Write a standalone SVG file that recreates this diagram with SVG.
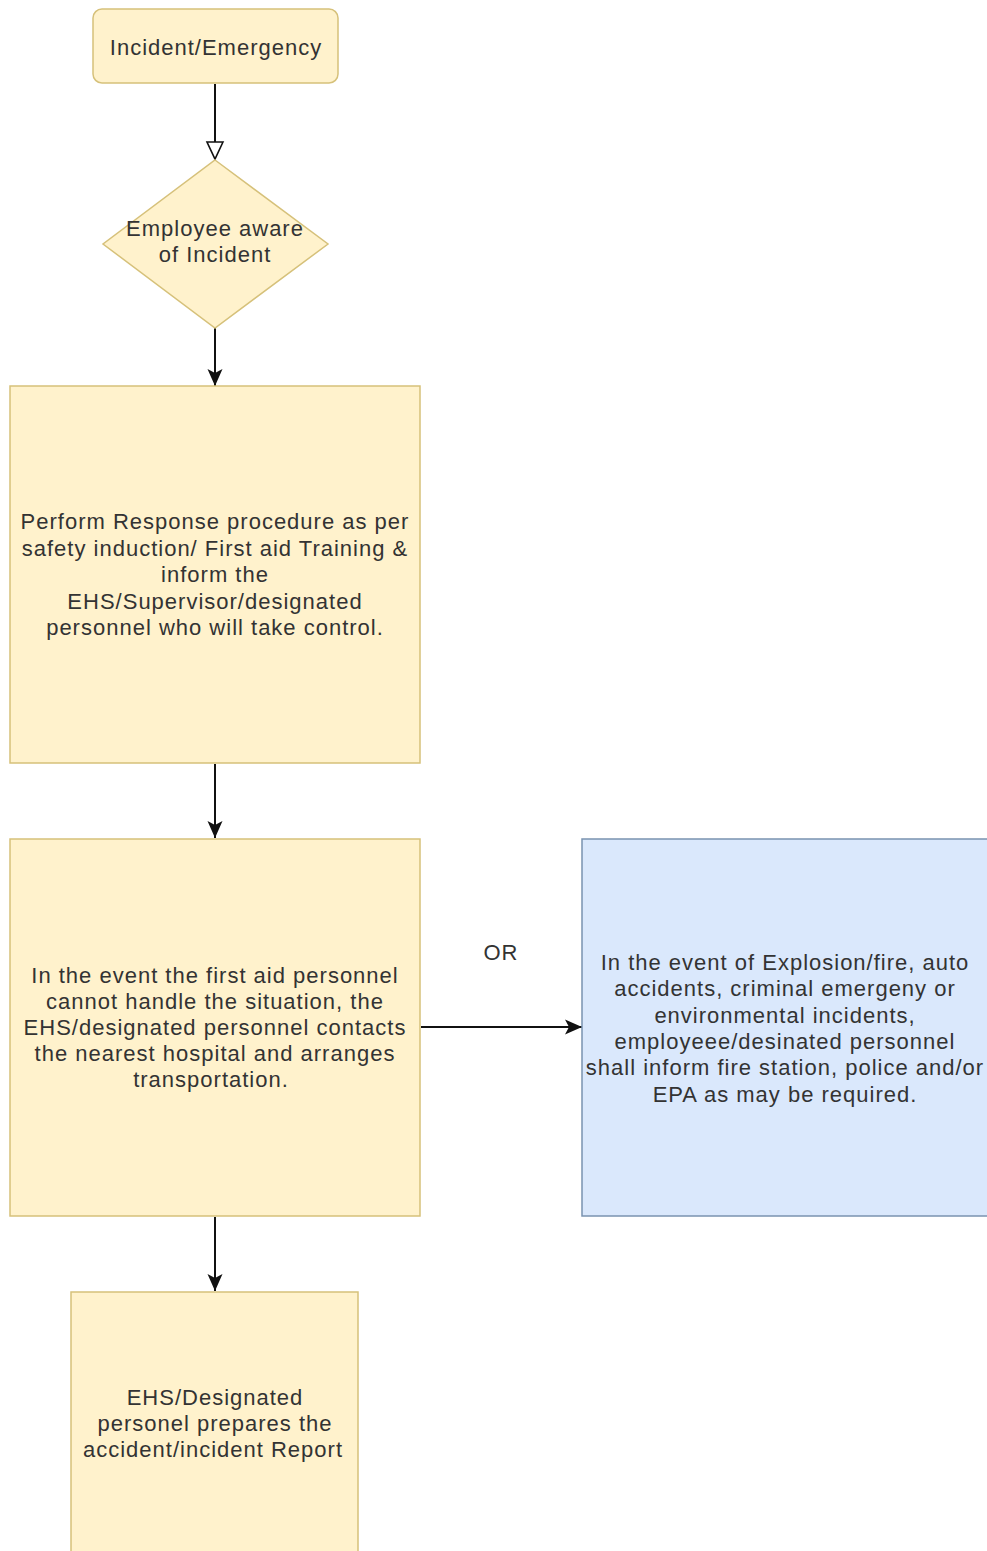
<svg xmlns="http://www.w3.org/2000/svg" width="987" height="1551" viewBox="0 0 987 1551">
  <style>
    .y { fill: #fff2cc; stroke: #d6c17a; stroke-width: 1.5; }
    .b { fill: #dae8fc; stroke: #7a93b0; stroke-width: 1.5; }
    .t { font-family: "Liberation Sans", Arial, sans-serif; font-size: 22px; letter-spacing: 1px; fill: #333333; text-anchor: middle; }
    .c { stroke: #111111; stroke-width: 2; fill: none; }
  </style>
  <defs>
    <marker id="fill" markerUnits="userSpaceOnUse" markerWidth="20" markerHeight="20" viewBox="0 0 20 20" refX="18" refY="10" orient="auto">
      <path d="M1,2.5 L18,10 L1,17.5 L5,10 Z" fill="#111111"/>
    </marker>
    <marker id="open" markerUnits="userSpaceOnUse" markerWidth="20" markerHeight="20" viewBox="0 0 20 20" refX="18" refY="10" orient="auto">
      <path d="M1,2 L18,10 L1,18 Z" fill="#ffffff" stroke="#111111" stroke-width="1.6"/>
    </marker>
  </defs>
  <rect width="987" height="1551" fill="#ffffff"/>

  <g id="connectors">
    <line class="c" x1="215" y1="84" x2="215" y2="159" marker-end="url(#open)"/>
    <line class="c" x1="215" y1="328" x2="215" y2="386" marker-end="url(#fill)"/>
    <line class="c" x1="215" y1="764" x2="215" y2="838" marker-end="url(#fill)"/>
    <line class="c" x1="421" y1="1027" x2="582" y2="1027" marker-end="url(#fill)"/>
    <line class="c" x1="215" y1="1217" x2="215" y2="1291" marker-end="url(#fill)"/>
    <text class="t" x="501" y="960">OR</text>
  </g>

  <g id="incident">
    <rect class="y" x="93" y="9" width="245" height="74" rx="9" ry="9"/>
    <text class="t" x="216" y="55">Incident/Emergency</text>
  </g>

  <g id="aware">
    <polygon class="y" points="215,160 328,244 215,328 103,244"/>
    <text class="t" x="215" y="236">Employee aware</text>
    <text class="t" x="215" y="262">of Incident</text>
  </g>

  <g id="perform">
    <rect class="y" x="10" y="386" width="410" height="377"/>
    <text class="t" x="215" y="529">Perform Response procedure as per</text>
    <text class="t" x="215" y="555.5">safety induction/ First aid Training &amp;</text>
    <text class="t" x="215" y="582">inform the</text>
    <text class="t" x="215" y="608.5">EHS/Supervisor/designated</text>
    <text class="t" x="215" y="635">personnel who will take control.</text>
  </g>

  <g id="firstaid">
    <rect class="y" x="10" y="839" width="410" height="377"/>
    <text class="t" x="215" y="983">In the event the first aid personnel</text>
    <text class="t" x="215" y="1009">cannot handle the situation, the</text>
    <text class="t" x="215" y="1035">EHS/designated personnel contacts</text>
    <text class="t" x="215" y="1061">the nearest hospital and arranges</text>
    <text class="t" x="211" y="1087">transportation.</text>
  </g>

  <g id="external">
    <rect class="b" x="582" y="839" width="420" height="377"/>
    <text class="t" x="785" y="970">In the event of Explosion/fire, auto</text>
    <text class="t" x="785" y="996">accidents, criminal emergeny or</text>
    <text class="t" x="785" y="1022.5">environmental incidents,</text>
    <text class="t" x="785" y="1049">employeee/desinated personnel</text>
    <text class="t" x="785" y="1075">shall inform fire station, police and/or</text>
    <text class="t" x="785" y="1101.5">EPA as may be required.</text>
  </g>

  <g id="report">
    <rect class="y" x="71" y="1292" width="287" height="280"/>
    <text class="t" x="215" y="1405">EHS/Designated</text>
    <text class="t" x="215" y="1431">personel prepares the</text>
    <text class="t" x="213" y="1457">accident/incident Report</text>
  </g>
</svg>
